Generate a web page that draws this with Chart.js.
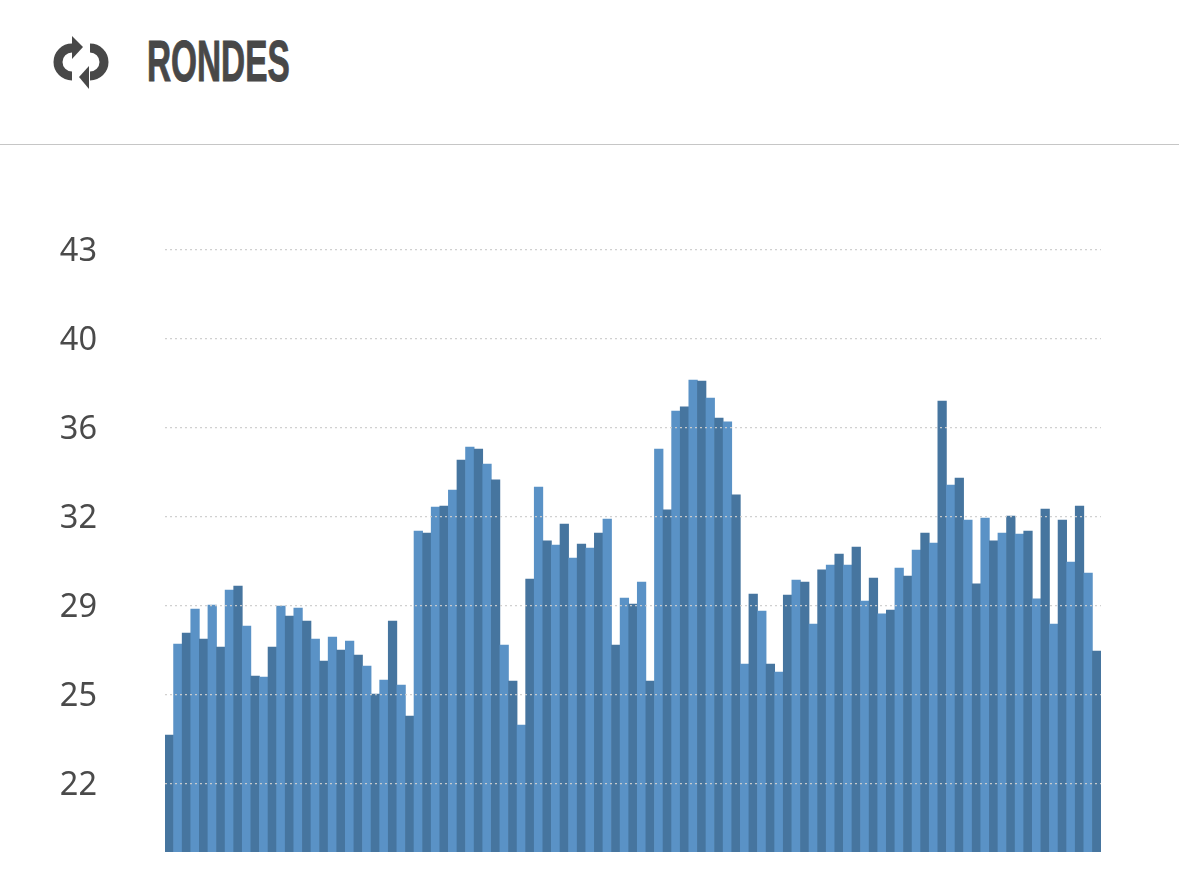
<!DOCTYPE html>
<html>
<head>
    <meta charset="utf-8">
    <title>Rondes</title>
    <script src="https://cdn.jsdelivr.net/npm/chart.js"></script>
    <style>
        html, body { margin: 0; padding: 0; background: #fff; overflow: hidden; }
        .header { position: absolute; left: 0; top: 0; width: 1179px; height: 144px; border-bottom: 1px solid #c6c6c6; }
        .header svg { position: absolute; left: 0; top: 0; }
        .header h1 {
            position: absolute; left: 147px; top: 27px; margin: 0;
            font: bold 58px/68px "Liberation Sans", sans-serif;
            color: #484848;
            -webkit-text-stroke: 1px #484848;
            transform: scaleX(0.575); transform-origin: left top;
            white-space: nowrap;
        }
        .chart-box { position: absolute; left: 0; top: 0; width: 1179px; height: 882px; }
    </style>
</head>
<body>
    <div class="header">
        <svg width="120" height="100" viewBox="0 0 120 100">
            <path d="M72 48 A14 14 0 0 0 72 76" fill="none" stroke="#484848" stroke-width="9"/>
            <path d="M90 48 A14 14 0 0 1 90 76" fill="none" stroke="#484848" stroke-width="9"/>
            <path d="M72 36 L83 47 L72 59 Z" fill="#484848"/>
            <path d="M89 66 L79 77 L89 89 Z" fill="#484848"/>
        </svg>
        <h1>RONDES</h1>
    </div>
    <div class="chart-box"><canvas id="rondesChart" width="1179" height="882"></canvas></div>

    <script type="text/javascript">
        // valeurs
        var values = [
            23.93, 27.51, 27.94, 28.88, 27.70, 29.04, 27.39, 29.63, 29.79, 28.21,
            26.25, 26.21, 27.39, 29.00, 28.61, 28.92, 28.41, 27.70, 26.84, 27.78,
            27.27, 27.62, 27.07, 26.64, 25.54, 26.09, 28.41, 25.89, 24.67, 31.95,
            31.87, 32.89, 32.93, 33.56, 34.74, 35.25, 35.17, 34.58, 33.96, 27.47,
            26.05, 24.32, 30.06, 33.68, 31.56, 31.40, 32.22, 30.89, 31.44, 31.28,
            31.87, 32.42, 27.47, 29.31, 29.08, 29.94, 26.05, 35.17, 32.78, 36.67,
            36.83, 37.89, 37.85, 37.18, 36.39, 36.24, 33.37, 26.72, 29.47, 28.80,
            26.72, 26.40, 29.43, 30.02, 29.94, 28.29, 30.42, 30.61, 31.04, 30.61,
            31.32, 29.20, 30.10, 28.69, 28.84, 30.49, 30.18, 31.20, 31.87, 31.48,
            37.06, 33.76, 34.03, 32.38, 29.87, 32.46, 31.56, 31.87, 32.54, 31.83,
            31.95, 29.28, 32.81, 28.29, 32.38, 30.73, 32.93, 30.30, 27.23
        ];
        var categories = values.map(function (v, i) { return i + 1; });
        var tickValues = [22, 25.5, 29, 32.5, 36, 39.5, 43];
        var tickLabels = ['22', '25', '29', '32', '36', '40', '43'];

        var darkBlue = '#46759f';
        var lightBlue = '#5a92c6';

        new Chart(document.getElementById('rondesChart').getContext('2d'), {
            type: 'bar',
            data: {
                labels: categories,
                datasets: [{
                    data: values,
                    backgroundColor: function (ctx) {
                        return ctx.dataIndex % 2 === 0 ? darkBlue : lightBlue;
                    },
                    barPercentage: 1,
                    categoryPercentage: 1,
                    borderWidth: 0
                }]
            },
            options: {
                responsive: false,
                animation: false,
                devicePixelRatio: 1,
                layout: { padding: { left: 0, right: 78, top: 250, bottom: 30 } },
                plugins: { legend: { display: false }, tooltip: { enabled: false } },
                scales: {
                    x: { display: false },
                    y: {
                        min: 19.33,
                        max: 43,
                        afterBuildTicks: function (scale) {
                            scale.ticks = tickValues.map(function (v) { return { value: v }; });
                        },
                        afterFit: function (scale) {
                            scale.width = 165;
                            // the big tick padding must not push the plot area up
                            scale.paddingTop = 0;
                            scale.paddingBottom = 0;
                        },
                        border: { display: false, dash: [2, 3] },
                        grid: {
                            z: 1,
                            drawTicks: false,
                            color: 'rgba(205, 205, 205, 0.95)',
                            lineWidth: 1.2
                        },
                        ticks: {
                            padding: 68,
                            labelOffset: 2,
                            color: '#4a4a4a',
                            font: { family: '"Noto Sans"', size: 32.5 },
                            callback: function (value, index) { return tickLabels[index]; }
                        }
                    }
                }
            }
        });
    </script>
</body>
</html>
